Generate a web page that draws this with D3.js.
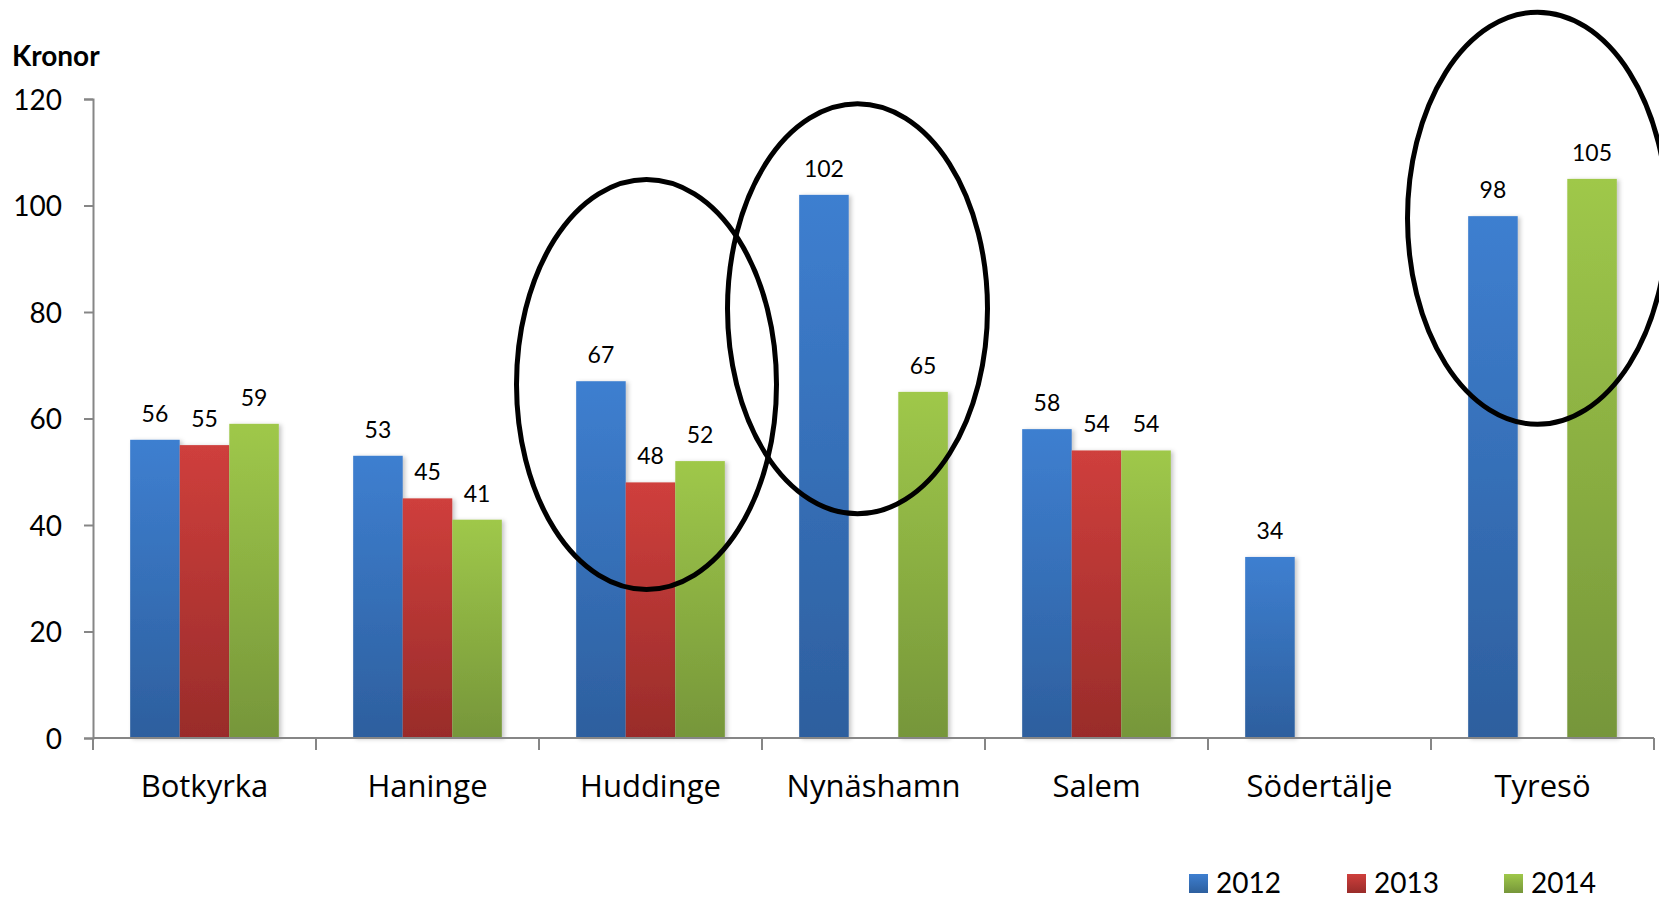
<!DOCTYPE html>
<html>
<head>
<meta charset="utf-8">
<script src="https://cdn.jsdelivr.net/npm/d3@7"></script>
<style>
  html, body { margin: 0; padding: 0; background: #fff; }
  svg { display: block; font-family: Lato, "Open Sans", sans-serif; }
</style>
</head>
<body>
<svg id="chart" width="1659" height="898"></svg>
<script>
// ---- data ----
const categories = ["Botkyrka", "Haninge", "Huddinge", "Nynäshamn", "Salem", "Södertälje", "Tyresö"];
const seriesNames = ["2012", "2013", "2014"];
const values2012 = [56, 53, 67, 102, 58, 34, 98];
const values2013 = [55, 45, 48, null, 54, null, null];
const values2014 = [59, 41, 52, 65, 54, null, 105];
const yTicks = [0, 20, 40, 60, 80, 100, 120];
const yLabel = "Kronor";
// annotation ellipses (category, centre value, half-height in value units)
const circledCats = ["Huddinge", "Nynäshamn", "Tyresö"];
const circledCentres = [66.4, 80.6, 97.6];
const circledHalfHeights = [38.5, 38.5, 38.7];

const seriesValues = [values2012, values2013, values2014];

// ---- layout ----
const svg = d3.select("#chart");
const mLeft = 93, mRight = 1654, mTop = 99, mBottom = 738;

const x = d3.scaleBand().domain(categories).range([mLeft, mRight]).paddingInner(0).paddingOuter(0);
const xs = d3.scaleBand().domain(seriesNames).range([0, x.bandwidth()]).paddingInner(0).paddingOuter(0.75);
const y = d3.scaleLinear().domain([0, 120]).range([mBottom, mTop]);

const colors = {
  "2012": ["#3e7fd0", "#2d5f9e"],
  "2013": ["#cf3f3c", "#992c2a"],
  "2014": ["#9fc84a", "#76963a"]
};

const defs = svg.append("defs");
seriesNames.forEach((s, i) => {
  const g = defs.append("linearGradient").attr("id", "grad" + i)
    .attr("x1", 0).attr("y1", 0).attr("x2", 0).attr("y2", 1);
  g.append("stop").attr("offset", "0%").attr("stop-color", colors[s][0]);
  g.append("stop").attr("offset", "100%").attr("stop-color", colors[s][1]);
});
const f = defs.append("filter").attr("id", "shadow").attr("x", "-20%").attr("y", "-5%").attr("width", "150%").attr("height", "115%");
f.append("feDropShadow").attr("dx", 2.5).attr("dy", 1).attr("stdDeviation", 2)
  .attr("flood-color", "#000").attr("flood-opacity", 0.22);

// ---- bars ----
const barData = [];
categories.forEach((c, ci) => {
  seriesNames.forEach((s, si) => {
    const v = seriesValues[si][ci];
    if (v !== null && v !== undefined) barData.push({ c, s, si, v });
  });
});

svg.append("g").selectAll("rect").data(barData).join("rect")
  .attr("x", d => x(d.c) + xs(d.s))
  .attr("y", d => y(d.v))
  .attr("width", xs.bandwidth())
  .attr("height", d => y(0) - y(d.v))
  .attr("fill", d => `url(#grad${d.si})`)
  .attr("filter", "url(#shadow)");

// value labels
svg.append("g").selectAll("text").data(barData).join("text")
  .attr("x", d => x(d.c) + xs(d.s) + xs.bandwidth() / 2)
  .attr("y", d => y(d.v) - 18)
  .attr("text-anchor", "middle")
  .attr("font-size", 23)
  .attr("fill", "#000")
  .text(d => d.v);

// ---- axes ----
const axisColor = "#868686";
const yAxis = svg.append("g").attr("transform", `translate(${mLeft},0)`)
  .call(d3.axisLeft(y).tickValues(yTicks).tickSize(9).tickPadding(22).tickFormat(d3.format("d")));
yAxis.select(".domain").attr("stroke", axisColor).attr("stroke-width", 2);
yAxis.selectAll(".tick line").attr("stroke", axisColor).attr("stroke-width", 2);
yAxis.selectAll(".tick text").attr("font-size", 28).attr("fill", "#000")
  .attr("font-family", "Lato, sans-serif").attr("dy", "0.36em");

// x axis: baseline + boundary ticks
const xAxisG = svg.append("g");
xAxisG.append("line").attr("x1", mLeft).attr("x2", mRight).attr("y1", y(0)).attr("y2", y(0))
  .attr("stroke", axisColor).attr("stroke-width", 2);
const boundaries = categories.map(c => x(c)).concat([x(categories[categories.length - 1]) + x.bandwidth()]);
xAxisG.selectAll("line.b").data(boundaries).join("line").attr("class", "b")
  .attr("x1", d => d).attr("x2", d => d).attr("y1", y(0)).attr("y2", y(0) + 12)
  .attr("stroke", axisColor).attr("stroke-width", 2);
xAxisG.selectAll("text").data(categories).join("text")
  .attr("x", d => x(d) + x.bandwidth() / 2)
  .attr("y", 797)
  .attr("text-anchor", "middle")
  .attr("font-family", "'Open Sans', sans-serif")
  .attr("font-size", 31)
  .attr("fill", "#000")
  .text(d => d);

// y label
svg.append("text").attr("x", 12).attr("y", 66).attr("font-size", 28).attr("font-weight", "bold")
  .attr("fill", "#000").text(yLabel);

// ---- legend ----
const legendX = [1189, 1347, 1504];
const lg = svg.append("g").selectAll("g").data(seriesNames).join("g")
  .attr("transform", (d, i) => `translate(${legendX[i]},874)`);
lg.append("rect").attr("width", 19).attr("height", 19).attr("fill", (d, i) => `url(#grad${i})`);
lg.append("text").attr("x", 27).attr("y", 19).attr("font-size", 28).attr("fill", "#000").text(d => d);

// ---- annotation ellipses ----
const ellOffsets = [-4, -16, -5];
svg.append("g").selectAll("ellipse").data(circledCats).join("ellipse")
  .attr("cx", (d, i) => x(d) + x.bandwidth() / 2 + ellOffsets[i])
  .attr("cy", (d, i) => y(circledCentres[i]))
  .attr("rx", 130)
  .attr("ry", (d, i) => y(0) - y(circledHalfHeights[i]))
  .attr("fill", "none")
  .attr("stroke", "#000")
  .attr("stroke-width", 5);
</script>
</body>
</html>
